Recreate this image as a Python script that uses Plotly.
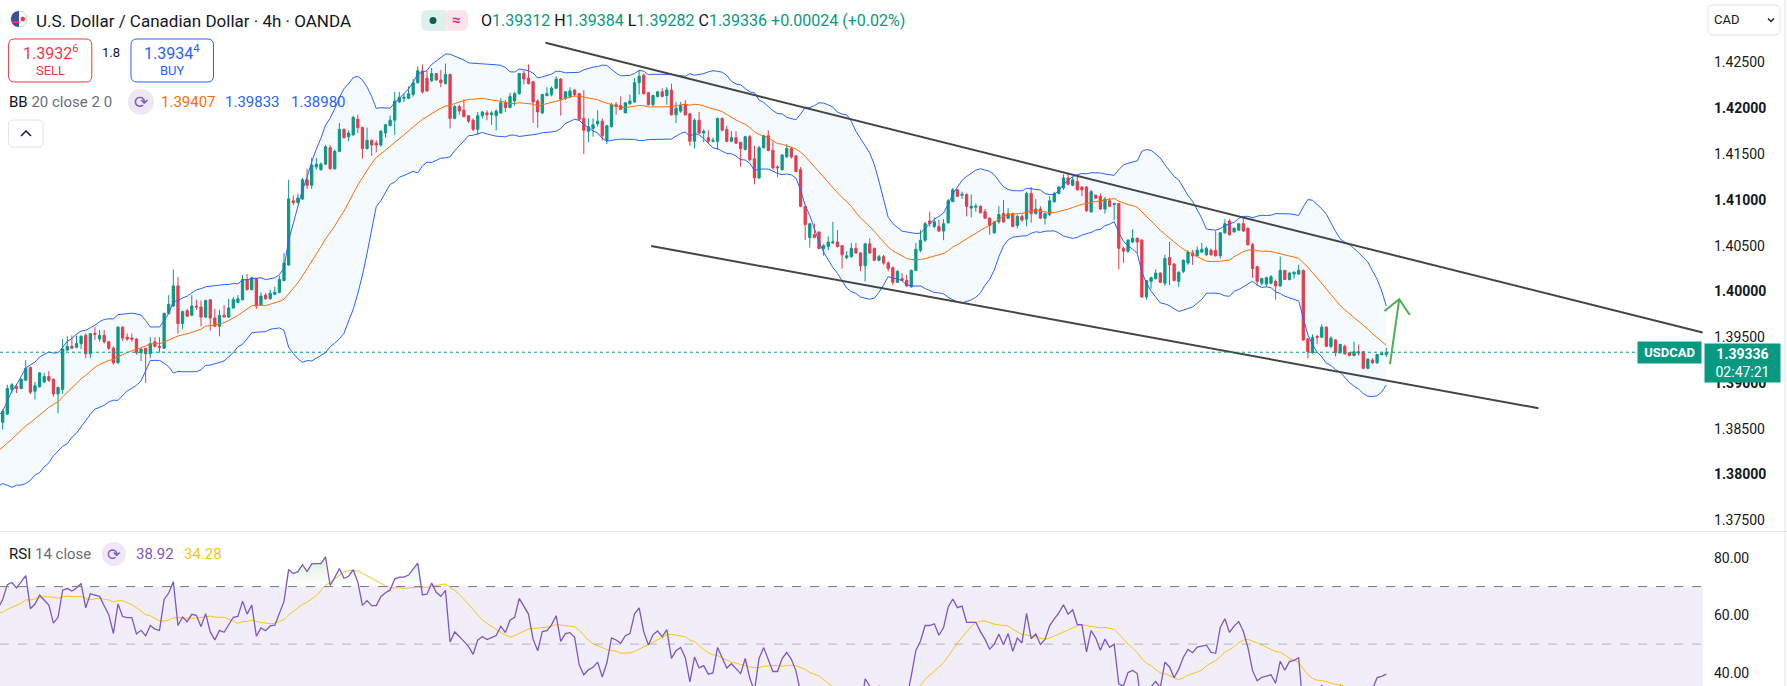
import numpy as np
import pandas as pd
import plotly.graph_objects as go

# ---------------------------------------------------------------- data
# closes before the first visible bar (off-screen, only feed the indicators)
warmup_close = [
    1.3790, 1.3798, 1.3791, 1.3786, 1.3795, 1.3802, 1.3794, 1.3789, 1.3797, 1.3792,
    1.3800, 1.3812, 1.3801, 1.3815, 1.3806, 1.3820, 1.3811, 1.3826, 1.3816, 1.3833,
    1.3822, 1.3838, 1.3829, 1.3845, 1.3836, 1.3852, 1.3843, 1.3861, 1.3857,
]

bar_open = [
    1.3857, 1.3866, 1.3893, 1.3896, 1.3894, 1.3903, 1.3917, 1.3891, 1.3896, 1.3901,
    1.3907, 1.3904, 1.3888, 1.3893, 1.3936, 1.3940, 1.3939, 1.3943, 1.3952, 1.3932,
    1.3954, 1.3948, 1.3952, 1.3945, 1.3938, 1.3922, 1.3961, 1.3950, 1.3949, 1.3948,
    1.3933, 1.3938, 1.3932, 1.3945, 1.3940, 1.3938, 1.3976, 1.3984, 1.4006, 1.3965,
    1.3979, 1.3974, 1.3984, 1.3983, 1.3972, 1.3991, 1.3971, 1.3962, 1.3974, 1.3972,
    1.3982, 1.3988, 1.3991, 1.4013, 1.4002, 1.4014, 1.3985, 1.3996, 1.3992, 1.3997,
    1.3999, 1.4012, 1.4029, 1.4099, 1.4097, 1.4101, 1.4122, 1.4116, 1.4136, 1.4133,
    1.4139, 1.4157, 1.4134, 1.4153, 1.4177, 1.4169, 1.4171, 1.4188, 1.4179, 1.4156,
    1.4165, 1.4162, 1.4160, 1.4173, 1.4181, 1.4187, 1.4207, 1.4211, 1.4211, 1.4215,
    1.4228, 1.4241, 1.4233, 1.4230, 1.4238, 1.4231, 1.4227, 1.4237, 1.4189, 1.4202,
    1.4198, 1.4192, 1.4187, 1.4177, 1.4192, 1.4195, 1.4193, 1.4192, 1.4195, 1.4206,
    1.4201, 1.4208, 1.4216, 1.4238, 1.4233, 1.4229, 1.4208, 1.4195, 1.4214, 1.4215,
    1.4222, 1.4232, 1.4211, 1.4213, 1.4220, 1.4216, 1.4189, 1.4175, 1.4178, 1.4183,
    1.4186, 1.4165, 1.4180, 1.4204, 1.4203, 1.4195, 1.4205, 1.4207, 1.4228, 1.4236,
    1.4217, 1.4204, 1.4213, 1.4218, 1.4214, 1.4220, 1.4193, 1.4197, 1.4204, 1.4194,
    1.4164, 1.4187, 1.4173, 1.4168, 1.4164, 1.4164, 1.4189, 1.4177, 1.4164, 1.4168,
    1.4163, 1.4155, 1.4169, 1.4145, 1.4124, 1.4157, 1.4170, 1.4154, 1.4136, 1.4133,
    1.4147, 1.4156, 1.4148, 1.4133, 1.4093, 1.4059, 1.4062, 1.4065, 1.4047, 1.4049,
    1.4053, 1.4054, 1.4050, 1.4037, 1.4038, 1.4047, 1.4042, 1.4028, 1.4052, 1.4047,
    1.4034, 1.4038, 1.4031, 1.4026, 1.4010, 1.4014, 1.4012, 1.4005, 1.4023, 1.4045,
    1.4056, 1.4077, 1.4071, 1.4071, 1.4066, 1.4075, 1.4098, 1.4111, 1.4105, 1.4106,
    1.4091, 1.4092, 1.4093, 1.4087, 1.4080, 1.4064, 1.4076, 1.4085, 1.4080, 1.4085,
    1.4072, 1.4082, 1.4079, 1.4107, 1.4085, 1.4090, 1.4080, 1.4084, 1.4098, 1.4107,
    1.4113, 1.4124, 1.4116, 1.4120, 1.4114, 1.4114, 1.4087, 1.4105, 1.4104, 1.4090,
    1.4099, 1.4095, 1.4096, 1.4047, 1.4044, 1.4054, 1.4058, 1.4056, 1.3994, 1.4011,
    1.4014, 1.4020, 1.4009, 1.4037, 1.4030, 1.4011, 1.4022, 1.4031, 1.4042, 1.4039,
    1.4043, 1.4040, 1.4045, 1.4045, 1.4039, 1.4064, 1.4077, 1.4065, 1.4067, 1.4074,
    1.4069, 1.4051, 1.4027, 1.4009, 1.4008, 1.4009, 1.4011, 1.4006, 1.4023, 1.4013,
    1.4019, 1.4019, 1.4023, 1.3948, 1.3933, 1.3951, 1.3950, 1.3961, 1.3940, 1.3947,
    1.3933, 1.3940, 1.3933, 1.3930, 1.3934, 1.3934, 1.3916, 1.3925, 1.3922, 1.3931,
    1.39312,
]

bar_high = [
    1.3871, 1.3898, 1.3900, 1.3899, 1.3905, 1.3925, 1.3918, 1.3901, 1.3912, 1.3911,
    1.3913, 1.3905, 1.3896, 1.3948, 1.3951, 1.3952, 1.3952, 1.3952, 1.3954, 1.3954,
    1.3961, 1.3958, 1.3958, 1.3946, 1.3940, 1.3962, 1.3962, 1.3954, 1.3954, 1.3949,
    1.3938, 1.3938, 1.3950, 1.3950, 1.3950, 1.3977, 1.3996, 1.4024, 1.4016, 1.3979,
    1.3981, 1.3996, 1.3991, 1.3990, 1.3991, 1.3991, 1.3981, 1.3980, 1.3985, 1.3992,
    1.3994, 1.3996, 1.4018, 1.4019, 1.4016, 1.4014, 1.3999, 1.3998, 1.4002, 1.4005,
    1.4017, 1.4042, 1.4122, 1.4105, 1.4107, 1.4124, 1.4134, 1.4146, 1.4146, 1.4141,
    1.4160, 1.4160, 1.4155, 1.4184, 1.4178, 1.4176, 1.4192, 1.4193, 1.4180, 1.4179,
    1.4166, 1.4165, 1.4176, 1.4183, 1.4192, 1.4218, 1.4218, 1.4216, 1.4224, 1.4232,
    1.4246, 1.4248, 1.4241, 1.4244, 1.4238, 1.4242, 1.4249, 1.4238, 1.4204, 1.4204,
    1.4210, 1.4192, 1.4189, 1.4196, 1.4197, 1.4198, 1.4197, 1.4199, 1.4211, 1.4209,
    1.4217, 1.4218, 1.4238, 1.4241, 1.4248, 1.4230, 1.4210, 1.4216, 1.4223, 1.4224,
    1.4235, 1.4233, 1.4219, 1.4223, 1.4221, 1.4217, 1.4220, 1.4189, 1.4189, 1.4198,
    1.4189, 1.4182, 1.4206, 1.4207, 1.4213, 1.4207, 1.4215, 1.4233, 1.4242, 1.4238,
    1.4218, 1.4215, 1.4219, 1.4222, 1.4223, 1.4227, 1.4207, 1.4207, 1.4209, 1.4195,
    1.4189, 1.4196, 1.4177, 1.4176, 1.4168, 1.4190, 1.4190, 1.4181, 1.4175, 1.4175,
    1.4163, 1.4170, 1.4171, 1.4159, 1.4159, 1.4171, 1.4176, 1.4164, 1.4138, 1.4150,
    1.4161, 1.4158, 1.4149, 1.4136, 1.4093, 1.4075, 1.4074, 1.4065, 1.4052, 1.4060,
    1.4076, 1.4067, 1.4050, 1.4044, 1.4053, 1.4053, 1.4043, 1.4053, 1.4058, 1.4048,
    1.4040, 1.4040, 1.4033, 1.4027, 1.4023, 1.4020, 1.4018, 1.4024, 1.4053, 1.4067,
    1.4076, 1.4087, 1.4081, 1.4078, 1.4079, 1.4101, 1.4113, 1.4112, 1.4109, 1.4107,
    1.4106, 1.4096, 1.4094, 1.4090, 1.4081, 1.4077, 1.4093, 1.4100, 1.4091, 1.4086,
    1.4084, 1.4084, 1.4109, 1.4114, 1.4101, 1.4093, 1.4086, 1.4104, 1.4109, 1.4115,
    1.4128, 1.4129, 1.4125, 1.4127, 1.4115, 1.4115, 1.4111, 1.4106, 1.4107, 1.4103,
    1.4102, 1.4097, 1.4097, 1.4049, 1.4057, 1.4068, 1.4059, 1.4057, 1.4012, 1.4016,
    1.4024, 1.4021, 1.4040, 1.4054, 1.4031, 1.4022, 1.4035, 1.4045, 1.4045, 1.4049,
    1.4053, 1.4049, 1.4047, 1.4066, 1.4065, 1.4079, 1.4079, 1.4070, 1.4074, 1.4080,
    1.4070, 1.4053, 1.4028, 1.4015, 1.4016, 1.4018, 1.4013, 1.4038, 1.4023, 1.4021,
    1.4022, 1.4029, 1.4024, 1.3949, 1.3953, 1.3952, 1.3964, 1.3962, 1.3951, 1.3948,
    1.3943, 1.3942, 1.3934, 1.3945, 1.3942, 1.3935, 1.3927, 1.3927, 1.3932, 1.3934,
    1.39384,
]

bar_low = [
    1.3849, 1.3865, 1.3889, 1.3889, 1.3893, 1.3903, 1.3888, 1.3882, 1.3895, 1.3900,
    1.3901, 1.3885, 1.3867, 1.3888, 1.3935, 1.3937, 1.3938, 1.3937, 1.3927, 1.3927,
    1.3947, 1.3945, 1.3943, 1.3936, 1.3920, 1.3921, 1.3946, 1.3946, 1.3945, 1.3931,
    1.3924, 1.3900, 1.3927, 1.3939, 1.3933, 1.3937, 1.3975, 1.3983, 1.3954, 1.3959,
    1.3972, 1.3973, 1.3980, 1.3962, 1.3971, 1.3957, 1.3961, 1.3951, 1.3972, 1.3971,
    1.3981, 1.3987, 1.3990, 1.4001, 1.4001, 1.3981, 1.3984, 1.3991, 1.3991, 1.3996,
    1.3998, 1.4011, 1.4028, 1.4094, 1.4096, 1.4100, 1.4112, 1.4112, 1.4133, 1.4132,
    1.4138, 1.4133, 1.4133, 1.4152, 1.4167, 1.4164, 1.4170, 1.4173, 1.4145, 1.4155,
    1.4148, 1.4152, 1.4158, 1.4168, 1.4181, 1.4171, 1.4206, 1.4207, 1.4210, 1.4213,
    1.4227, 1.4216, 1.4218, 1.4229, 1.4230, 1.4223, 1.4226, 1.4178, 1.4188, 1.4193,
    1.4190, 1.4184, 1.4175, 1.4171, 1.4189, 1.4187, 1.4182, 1.4176, 1.4194, 1.4196,
    1.4200, 1.4203, 1.4215, 1.4226, 1.4226, 1.4184, 1.4179, 1.4194, 1.4213, 1.4213,
    1.4221, 1.4192, 1.4209, 1.4211, 1.4213, 1.4186, 1.4150, 1.4163, 1.4169, 1.4180,
    1.4165, 1.4161, 1.4179, 1.4193, 1.4198, 1.4195, 1.4204, 1.4206, 1.4215, 1.4215,
    1.4203, 1.4202, 1.4212, 1.4212, 1.4204, 1.4192, 1.4184, 1.4195, 1.4192, 1.4159,
    1.4156, 1.4172, 1.4163, 1.4162, 1.4163, 1.4155, 1.4175, 1.4163, 1.4163, 1.4161,
    1.4136, 1.4154, 1.4142, 1.4117, 1.4123, 1.4156, 1.4153, 1.4133, 1.4125, 1.4132,
    1.4146, 1.4145, 1.4130, 1.4092, 1.4056, 1.4048, 1.4058, 1.4046, 1.4039, 1.4045,
    1.4052, 1.4048, 1.4025, 1.4035, 1.4037, 1.4041, 1.4022, 1.4011, 1.4041, 1.4033,
    1.4033, 1.4029, 1.4022, 1.4007, 1.4009, 1.4011, 1.4005, 1.4004, 1.4022, 1.4043,
    1.4054, 1.4071, 1.4069, 1.4065, 1.4056, 1.4074, 1.4098, 1.4103, 1.4101, 1.4082,
    1.4081, 1.4087, 1.4085, 1.4079, 1.4062, 1.4063, 1.4074, 1.4075, 1.4079, 1.4070,
    1.4069, 1.4076, 1.4071, 1.4075, 1.4084, 1.4079, 1.4073, 1.4082, 1.4097, 1.4106,
    1.4111, 1.4116, 1.4115, 1.4110, 1.4104, 1.4087, 1.4086, 1.4101, 1.4089, 1.4085,
    1.4092, 1.4078, 1.4024, 1.4031, 1.4042, 1.4053, 1.4042, 1.3993, 1.3991, 1.4003,
    1.4013, 1.4009, 1.4006, 1.4007, 1.4011, 1.4005, 1.4020, 1.4029, 1.4029, 1.4038,
    1.4042, 1.4039, 1.4039, 1.4038, 1.4036, 1.4063, 1.4061, 1.4064, 1.4066, 1.4065,
    1.4050, 1.4015, 1.4006, 1.4007, 1.4005, 1.4008, 1.3991, 1.4005, 1.4013, 1.4012,
    1.4014, 1.4018, 1.3946, 1.3927, 1.3932, 1.3943, 1.3949, 1.3939, 1.3938, 1.3929,
    1.3932, 1.3931, 1.3929, 1.3929, 1.3930, 1.3915, 1.3915, 1.3921, 1.3921, 1.3930,
    1.39282,
]

bar_close = [
    1.3869, 1.3894, 1.3898, 1.3894, 1.3904, 1.3916, 1.3890, 1.3897, 1.3911, 1.3907,
    1.3903, 1.3888, 1.3895, 1.3937, 1.3940, 1.3938, 1.3943, 1.3951, 1.3932, 1.3954,
    1.3953, 1.3952, 1.3945, 1.3938, 1.3922, 1.3961, 1.3949, 1.3948, 1.3948, 1.3933,
    1.3937, 1.3932, 1.3943, 1.3940, 1.3939, 1.3976, 1.3986, 1.4006, 1.3965, 1.3978,
    1.3973, 1.3984, 1.3983, 1.3972, 1.3990, 1.3971, 1.3962, 1.3974, 1.3972, 1.3982,
    1.3991, 1.3992, 1.4013, 1.4002, 1.4015, 1.3984, 1.3995, 1.3992, 1.3998, 1.3999,
    1.4013, 1.4031, 1.4101, 1.4097, 1.4102, 1.4122, 1.4116, 1.4138, 1.4139, 1.4139,
    1.4158, 1.4134, 1.4153, 1.4177, 1.4168, 1.4173, 1.4190, 1.4179, 1.4156, 1.4165,
    1.4160, 1.4160, 1.4175, 1.4182, 1.4187, 1.4208, 1.4212, 1.4212, 1.4216, 1.4228,
    1.4241, 1.4218, 1.4219, 1.4238, 1.4231, 1.4228, 1.4237, 1.4189, 1.4202, 1.4197,
    1.4191, 1.4186, 1.4177, 1.4192, 1.4196, 1.4193, 1.4195, 1.4197, 1.4206, 1.4201,
    1.4213, 1.4216, 1.4238, 1.4232, 1.4227, 1.4207, 1.4196, 1.4215, 1.4216, 1.4222,
    1.4232, 1.4210, 1.4218, 1.4219, 1.4215, 1.4188, 1.4176, 1.4180, 1.4182, 1.4186,
    1.4170, 1.4181, 1.4204, 1.4202, 1.4199, 1.4206, 1.4208, 1.4228, 1.4235, 1.4216,
    1.4204, 1.4214, 1.4218, 1.4213, 1.4220, 1.4193, 1.4200, 1.4203, 1.4193, 1.4164,
    1.4187, 1.4173, 1.4175, 1.4164, 1.4165, 1.4189, 1.4176, 1.4164, 1.4168, 1.4162,
    1.4156, 1.4169, 1.4144, 1.4124, 1.4157, 1.4170, 1.4154, 1.4135, 1.4135, 1.4149,
    1.4156, 1.4147, 1.4131, 1.4093, 1.4073, 1.4074, 1.4059, 1.4047, 1.4050, 1.4054,
    1.4054, 1.4049, 1.4040, 1.4039, 1.4047, 1.4042, 1.4028, 1.4052, 1.4042, 1.4034,
    1.4038, 1.4031, 1.4025, 1.4010, 1.4022, 1.4012, 1.4006, 1.4023, 1.4046, 1.4056,
    1.4074, 1.4074, 1.4076, 1.4066, 1.4074, 1.4099, 1.4111, 1.4104, 1.4106, 1.4093,
    1.4093, 1.4093, 1.4086, 1.4080, 1.4072, 1.4076, 1.4084, 1.4076, 1.4085, 1.4071,
    1.4082, 1.4078, 1.4107, 1.4085, 1.4090, 1.4080, 1.4085, 1.4099, 1.4107, 1.4114,
    1.4124, 1.4117, 1.4122, 1.4111, 1.4111, 1.4088, 1.4109, 1.4102, 1.4090, 1.4101,
    1.4093, 1.4096, 1.4047, 1.4044, 1.4056, 1.4058, 1.4054, 1.3994, 1.4012, 1.4015,
    1.4020, 1.4010, 1.4036, 1.4029, 1.4012, 1.4021, 1.4034, 1.4043, 1.4039, 1.4045,
    1.4046, 1.4047, 1.4040, 1.4039, 1.4064, 1.4074, 1.4062, 1.4069, 1.4074, 1.4066,
    1.4051, 1.4025, 1.4011, 1.4014, 1.4015, 1.4016, 1.4006, 1.4023, 1.4013, 1.4020,
    1.4021, 1.4023, 1.3947, 1.3934, 1.3950, 1.3950, 1.3961, 1.3940, 1.3949, 1.3933,
    1.3942, 1.3932, 1.3930, 1.3934, 1.3933, 1.3916, 1.3926, 1.3922, 1.3931, 1.3932,
    1.39336,
]

# user drawings: (bar index, price)
channel_upper = [(117.7, 1.42717), (368.6, 1.39551)]
channel_lower = [(140.6, 1.40496), (333.0, 1.38724)]
arrow_shaft = [(300.8, 1.39207), (302.8, 1.39914)]
arrow_head = [(299.6, 1.39787), (302.8, 1.39914), (305.1, 1.39743)]

price_ticks = [1.375, 1.380, 1.385, 1.390, 1.395, 1.400, 1.405, 1.410, 1.415, 1.420, 1.425]
rsi_ticks = [40, 60, 80]
last_price = 1.39336

# ---------------------------------------------------------------- style
W, H = 1787, 686
PW = 1703  # plot area width, price scale to the right
FONT = "Roboto"
TXT = "#131722"
GREY = "#6a6d78"
UP, DOWN = "#089981", "#F23645"
BB_BLUE, BB_ORANGE = "#2962FF", "#FF6D00"
RSI_COL, RSI_MA_COL = "#7E57C2", "#F5C518"
SPLIT = 1 - 531.6 / H  # paper y of the pane separator


def bollinger(close, length=20, mult=2.0):
    s = pd.Series(close)
    basis = s.rolling(length).mean()
    dev = s.rolling(length).std(ddof=0)
    return basis.values, (basis + mult * dev).values, (basis - mult * dev).values


def rsi(close, length=14):
    d = np.diff(close)
    gain = np.clip(d, 0, None)
    loss = np.clip(-d, 0, None)
    out = np.full(len(close), np.nan)
    ag, al = gain[:length].mean(), loss[:length].mean()
    out[length] = 100 - 100 / (1 + ag / al)
    for i in range(length, len(d)):
        ag = (ag * (length - 1) + gain[i]) / length
        al = (al * (length - 1) + loss[i]) / length
        out[i + 1] = 100.0 if al == 0 else 100 - 100 / (1 + ag / al)
    return out


all_close = np.array(warmup_close + bar_close)
idx = np.arange(len(all_close)) - len(warmup_close)
basis, upper, lower = bollinger(all_close)
rsi_v = rsi(all_close)
rsi_ma = pd.Series(rsi_v).rolling(14).mean().values
show = idx >= -1
bars = np.arange(len(bar_close))


def pp(x, y):
    return x / PW, 1 - y / H


def rrect(x0, y0, x1, y1, r):
    pts = [("M", x0 + r, y0), ("L", x1 - r, y0), ("Q", x1, y0, x1, y0 + r),
           ("L", x1, y1 - r), ("Q", x1, y1, x1 - r, y1), ("L", x0 + r, y1),
           ("Q", x0, y1, x0, y1 - r), ("L", x0, y0 + r), ("Q", x0, y0, x0 + r, y0)]
    out = ""
    for p in pts:
        cmd, vals = p[0], p[1:]
        coords = []
        for k in range(0, len(vals), 2):
            a, b = pp(vals[k], vals[k + 1])
            coords.append(f"{a:.5f},{b:.5f}")
        out += cmd + " ".join(coords) + " "
    return out + "Z"


def poly(points, close=False):
    s = ""
    for i, (x, y) in enumerate(points):
        a, b = pp(x, y)
        s += ("M" if i == 0 else "L") + f"{a:.5f},{b:.5f} "
    return s + ("Z" if close else "")


def half_disc(cx, cy, r, left=True):
    k = 0.5523 * r
    sgn = -1 if left else 1
    seq = [(cx, cy - r), (cx + sgn * k, cy - r), (cx + sgn * r, cy - k), (cx + sgn * r, cy),
           (cx + sgn * r, cy + k), (cx + sgn * k, cy + r), (cx, cy + r)]
    c = [pp(*p) for p in seq]
    f = lambda p: f"{p[0]:.5f},{p[1]:.5f}"
    return f"M{f(c[0])} C{f(c[1])} {f(c[2])} {f(c[3])} C{f(c[4])} {f(c[5])} {f(c[6])} Z"


fig = go.Figure()

# ---------------------------------------------------------------- price pane
fig.add_trace(go.Scatter(x=idx[show], y=upper[show], mode="lines",
                         line=dict(color=BB_BLUE, width=1), xaxis="x", yaxis="y"))
fig.add_trace(go.Scatter(x=idx[show], y=lower[show], mode="lines", fill="tonexty",
                         fillcolor="rgba(33,150,243,0.05)",
                         line=dict(color=BB_BLUE, width=1), xaxis="x", yaxis="y"))
fig.add_trace(go.Candlestick(
    x=bars, open=bar_open, high=bar_high, low=bar_low, close=bar_close,
    increasing=dict(line=dict(color=UP, width=1), fillcolor=UP),
    decreasing=dict(line=dict(color=DOWN, width=1), fillcolor=DOWN),
    whiskerwidth=0, xaxis="x", yaxis="y"))
fig.add_trace(go.Scatter(x=idx[show], y=basis[show], mode="lines",
                         line=dict(color=BB_ORANGE, width=1), xaxis="x", yaxis="y"))

for line in (channel_upper, channel_lower):
    fig.add_trace(go.Scatter(x=[p[0] for p in line], y=[p[1] for p in line], mode="lines",
                             line=dict(color="#454545", width=2), xaxis="x", yaxis="y"))
for line in (arrow_shaft, arrow_head):
    fig.add_trace(go.Scatter(x=[p[0] for p in line], y=[p[1] for p in line], mode="lines",
                             line=dict(color="#4CAF50", width=2), xaxis="x", yaxis="y"))

# ---------------------------------------------------------------- RSI pane
ob = np.where(rsi_v > 70, rsi_v, 70)
fig.add_trace(go.Scatter(x=idx[show], y=np.full(show.sum(), 70.0), mode="lines",
                         line=dict(width=0), xaxis="x2", yaxis="y2"))
fig.add_trace(go.Scatter(x=idx[show], y=ob[show], mode="lines", line=dict(width=0),
                         fill="tonexty",
                         fillgradient=dict(type="vertical", start=70, stop=88,
                                           colorscale=[[0, "rgba(76,175,80,0)"],
                                                       [1, "rgba(76,175,80,0.35)"]]),
                         xaxis="x2", yaxis="y2"))
fig.add_trace(go.Scatter(x=idx[show], y=rsi_ma[show], mode="lines",
                         line=dict(color=RSI_MA_COL, width=1), xaxis="x2", yaxis="y2"))
fig.add_trace(go.Scatter(x=idx[show], y=rsi_v[show], mode="lines",
                         line=dict(color=RSI_COL, width=1.3), xaxis="x2", yaxis="y2"))

xr = [-2.7 / 4.612, (PW - 2.7) / 4.612]
axis_font = dict(family=FONT, size=14, color=TXT)
price_text = [f"<b>{v:.5f}</b>" if round(v * 1000) % 10 == 0 else f"{v:.5f}" for v in price_ticks]

fig.update_layout(
    width=W, height=H, showlegend=False, hovermode=False,
    margin=dict(l=0, r=W - PW, t=0, b=0),
    plot_bgcolor="white", paper_bgcolor="white",
    xaxis=dict(domain=[0, 1], range=xr, anchor="y", showticklabels=False, showgrid=False,
               zeroline=False, rangeslider=dict(visible=False), fixedrange=True),
    yaxis=dict(domain=[SPLIT, 1], range=[1.373766, 1.431834], side="right", anchor="x",
               tickvals=price_ticks, ticktext=price_text, tickfont=axis_font,
               showgrid=False, zeroline=False, ticks="", ticklabelstandoff=10),
    xaxis2=dict(domain=[0, 1], range=xr, anchor="y2", matches="x", showticklabels=False,
                showgrid=False, zeroline=False),
    yaxis2=dict(domain=[0, SPLIT], range=[35.447, 89.105], side="right", anchor="x2",
                tickvals=rsi_ticks, ticktext=[f"{v:.2f}" for v in rsi_ticks],
                tickfont=axis_font, showgrid=False, zeroline=False, ticks="",
                ticklabelstandoff=10),
)

shapes = [
    dict(type="rect", xref="paper", yref="y2", x0=0, x1=1, y0=30, y1=70,
         fillcolor="rgba(126,87,194,0.1)", line=dict(width=0), layer="below"),
    dict(type="line", xref="paper", yref="y2", x0=0, x1=1, y0=70, y1=70,
         line=dict(color="#787B86", width=1, dash="dash")),
    dict(type="line", xref="paper", yref="y2", x0=0, x1=1, y0=50, y1=50,
         line=dict(color="rgba(120,123,134,0.5)", width=1, dash="dash")),
    dict(type="line", xref="paper", yref="y", x0=0, x1=1, y0=last_price, y1=last_price,
         line=dict(color=UP, width=1, dash="dot")),
    dict(type="line", xref="paper", yref="paper", x0=0, x1=W / PW, y0=SPLIT, y1=SPLIT,
         line=dict(color="#e0e3eb", width=1)),
    dict(type="line", xref="paper", yref="paper", x0=1785 / PW, x1=1785 / PW, y0=0, y1=1,
         line=dict(color="#e0e3eb", width=1)),
    # sell / buy boxes
    dict(type="path", xref="paper", yref="paper", path=rrect(8.6, 39, 91.8, 82, 6),
         line=dict(color=DOWN, width=1), fillcolor="white"),
    dict(type="path", xref="paper", yref="paper", path=rrect(131, 39, 213.5, 82, 6),
         line=dict(color=BB_BLUE, width=1), fillcolor="white"),
    # collapse button
    dict(type="path", xref="paper", yref="paper", path=rrect(8.6, 120, 43, 147, 4),
         line=dict(color="#e0e3eb", width=1), fillcolor="white"),
    dict(type="path", xref="paper", yref="paper", path=poly([(21, 136), (26, 131), (31, 136)]),
         line=dict(color=TXT, width=1.5)),
    # currency button
    dict(type="path", xref="paper", yref="paper", path=rrect(1708, 5, 1780, 35, 5),
         line=dict(color="#e0e3eb", width=1), fillcolor="white"),
    dict(type="path", xref="paper", yref="paper", path=poly([(1768, 18.5), (1771, 21.5), (1774, 18.5)]),
         line=dict(color=TXT, width=1.3)),
    # market status pill
    dict(type="path", xref="paper", yref="paper", path=rrect(421, 10, 448, 31, 7),
         line=dict(width=0), fillcolor="#dcf1eb"),
    dict(type="path", xref="paper", yref="paper", path=rrect(444, 10, 468, 31, 7),
         line=dict(width=0), fillcolor="#fce4ec"),
    dict(type="rect", xref="paper", yref="paper", x0=pp(441, 0)[0], x1=pp(446, 0)[0],
         y0=pp(0, 31)[1], y1=pp(0, 10)[1], line=dict(width=0), fillcolor="#dcf1eb"),
    # flag icon
    dict(type="circle", xref="paper", yref="paper", x0=pp(11, 0)[0], x1=pp(27, 0)[0],
         y0=pp(0, 27)[1], y1=pp(0, 11)[1], fillcolor="white", line=dict(color="#d0d3da", width=1)),
    dict(type="path", xref="paper", yref="paper", path=half_disc(19, 19, 8, left=True),
         fillcolor="#3c4f9a", line=dict(width=0)),
    dict(type="path", xref="paper", yref="paper",
         path=poly([(12, 21), (19, 21), (19, 23), (13, 23)], close=True),
         fillcolor=DOWN, line=dict(width=0)),
    dict(type="circle", xref="paper", yref="paper", x0=pp(20.5, 0)[0], x1=pp(25, 0)[0],
         y0=pp(0, 21.5)[1], y1=pp(0, 16.5)[1], fillcolor=DOWN, line=dict(width=0)),
    dict(type="circle", xref="paper", yref="paper", x0=pp(429.5, 0)[0], x1=pp(436.5, 0)[0],
         y0=pp(0, 24)[1], y1=pp(0, 17)[1], fillcolor="#125e4f", line=dict(width=0)),
    # indicator icons
    dict(type="circle", xref="paper", yref="paper", x0=pp(128, 0)[0], x1=pp(154, 0)[0],
         y0=pp(0, 114.7)[1], y1=pp(0, 88.7)[1], fillcolor="rgba(126,87,194,0.14)", line=dict(width=0)),
    dict(type="circle", xref="paper", yref="paper", x0=pp(102, 0)[0], x1=pp(126, 0)[0],
         y0=pp(0, 566)[1], y1=pp(0, 542)[1], fillcolor="rgba(126,87,194,0.14)", line=dict(width=0)),
]
fig.update_layout(shapes=shapes)


def label(x, y, text, size=15, color=TXT, xanchor="left", **kw):
    a, b = pp(x, y)
    fig.add_annotation(x=a, y=b, xref="paper", yref="paper", text=text, showarrow=False,
                       xanchor=xanchor, yanchor="middle",
                       font=dict(family=FONT, size=size, color=color), **kw)


def span(t, c):
    return f"<span style='color:{c}'>{t}</span>"


label(34, 20.7, "U.S. Dollar / Canadian Dollar · 4h · OANDA", size=17)
label(456, 20, "<b>≈</b>", size=15, color="#d6336c", xanchor="center")
label(479, 20.7, span("O", TXT) + span("1.39312 ", UP) + span("H", TXT) + span("1.39384 ", UP)
      + span("L", TXT) + span("1.39282 ", UP) + span("C", TXT) + span("1.39336 ", UP)
      + span("+0.00024 (+0.02%)", UP), size=16)

label(50.2, 53, "1.3932<sup>6</sup>", size=16, color=DOWN, xanchor="center")
label(50.2, 70, "SELL", size=13, color=DOWN, xanchor="center")
label(110.5, 52, "1.8", size=13, xanchor="center")
label(172.3, 53, "1.3934<sup>4</sup>", size=16, color=BB_BLUE, xanchor="center")
label(172.3, 70, "BUY", size=13, color=BB_BLUE, xanchor="center")

label(7, 101.7, span("BB", TXT) + " " + span("20 close 2 0", GREY), size=15)
label(141, 101.7, "⟳", size=17, color=RSI_COL, xanchor="center")
label(158.5, 101.7, "1.39407", size=15, color=BB_ORANGE)
label(222.5, 101.7, "1.39833", size=15, color=BB_BLUE)
label(288.5, 101.7, "1.38980", size=15, color=BB_BLUE)

label(6.5, 554, span("RSI", TXT) + " " + span("14 close", GREY), size=15)
label(114, 554, "⟳", size=16, color=RSI_COL, xanchor="center")
label(133.5, 554, "38.92", size=15, color=RSI_COL)
label(181.5, 554, "34.28", size=15, color=RSI_MA_COL)

label(1712, 20, "CAD", size=13)

# price tags on the scale
a, b = pp(1702, 352.8)
fig.add_annotation(x=a, y=b, xref="paper", yref="paper", text="<b>USDCAD</b>", showarrow=False,
                   xanchor="right", yanchor="middle", bgcolor=UP, borderpad=3, width=57, height=15,
                   font=dict(family=FONT, size=13, color="white"))
a, b = pp(1704, 342.5)
fig.add_annotation(x=a, y=b, xref="paper", yref="paper", text="<b>1.39336</b><br>02:47:21",
                   showarrow=False, xanchor="left", yanchor="top", bgcolor=UP, borderpad=3,
                   width=69, height=32, align="center",
                   font=dict(family=FONT, size=14, color="white"))

# the page should start at the window's top-left corner, no modebar
fig.write_html("out.html", config={"displayModeBar": False},
               post_script="document.body.style.margin='0';document.body.style.overflow='hidden';")
